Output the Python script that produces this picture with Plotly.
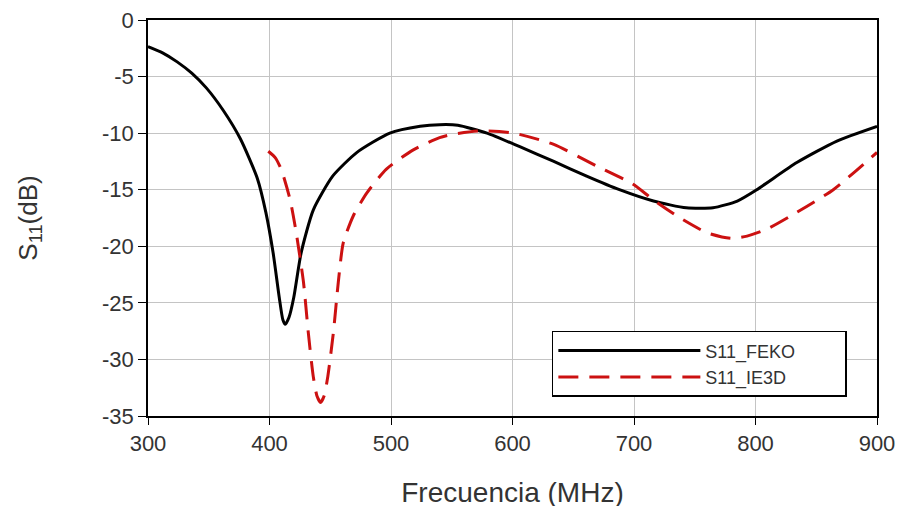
import plotly.graph_objects as go

# Frequency (MHz) and S11 (dB)
feko_f = [300, 312, 324, 336, 348, 362, 376, 390, 397, 403, 408, 411, 413, 416, 420, 426,
          436, 452, 472, 499, 524, 540, 555, 579, 606, 634, 661, 688, 716, 743, 765, 785,
          801, 834, 867, 900]
feko_s = [-2.35, -2.9, -3.7, -4.7, -6.0, -8.0, -10.5, -14.0, -17.0, -20.6, -24.5, -26.5,
          -26.9, -26.3, -24.5, -20.6, -16.8, -13.8, -11.7, -10.0, -9.4, -9.25, -9.3, -10.0,
          -11.2, -12.5, -13.8, -15.0, -16.0, -16.6, -16.6, -16.0, -15.0, -12.6, -10.7, -9.4]

ie3d_f = [399, 405, 410, 417, 422, 428, 432, 436, 439, 442, 445, 448, 452.5, 456.6, 460.7,
          469, 480, 496, 518, 540, 551, 573, 601, 634, 669, 699, 716, 738, 760, 780, 793,
          809, 834, 864, 900]
ie3d_s = [-11.6, -12.2, -13.3, -15.9, -18.8, -23.2, -27.7, -31.5, -33.2, -33.8, -33.2,
          -31.5, -27.7, -23.2, -19.7, -17.3, -15.3, -13.2, -11.5, -10.4, -10.1, -9.8, -10.0,
          -11.0, -12.9, -14.5, -15.9, -17.5, -18.8, -19.3, -19.1, -18.5, -17.0, -15.0, -11.7]

x_ticks = [300, 400, 500, 600, 700, 800, 900]
y_ticks = [0, -5, -10, -15, -20, -25, -30, -35]
y_ticktext = ["0", "-5", "-10", "-15", "-20", "-25", "-30", "-35"]

pad = "\u00a0" * 9

fig = go.Figure()
fig.add_trace(go.Scatter(x=feko_f, y=feko_s, mode="lines", name="S11_FEKO" + pad,
                         line=dict(color="black", width=3, shape="spline", smoothing=0.6)))
fig.add_trace(go.Scatter(x=ie3d_f, y=ie3d_s, mode="lines", name="S11_IE3D" + pad,
                         line=dict(color="#cc1111", width=3, dash="20px,11px",
                                   shape="spline", smoothing=0.6)))

font_family = "Liberation Sans, Arial, sans-serif"
fig.update_layout(
    width=906, height=506,
    margin=dict(l=140, r=37, t=12, b=98, autoexpand=False),
    paper_bgcolor="white", plot_bgcolor="white",
    font=dict(family=font_family, color="#222222"),
    showlegend=True,
    legend=dict(x=0.554, y=0.215, xanchor="left", yanchor="top",
                bgcolor="white", bordercolor="black", borderwidth=1.5,
                font=dict(size=18, color="#333333"), itemwidth=142,
                tracegroupgap=0),
    xaxis=dict(range=[300, 900], tickvals=x_ticks, showgrid=True, gridcolor="#c4c4c4",
               gridwidth=1, showline=True, linecolor="black", linewidth=1.5, mirror=True,
               ticks="outside", ticklen=7, tickcolor="black", automargin=False,
               ticklabeloverflow="allow",
               tickfont=dict(size=22, color="#333333"),
               title=dict(text="Frecuencia (MHz)", font=dict(size=28, color="#333333"),
                          standoff=27),
               zeroline=False),
    yaxis=dict(range=[-35, 0], tickvals=y_ticks, ticktext=y_ticktext, showgrid=True,
               gridcolor="#c4c4c4", gridwidth=1, showline=True, linecolor="black",
               linewidth=1.5, mirror=True, ticks="outside", ticklen=8, tickcolor="black",
               automargin=False, ticklabeloverflow="allow",
               tickfont=dict(size=22, color="#333333"),
               title=dict(text="S<sub>11</sub>(dB)", font=dict(size=26, color="#333333"),
                          standoff=57),
               zeroline=False),
)

fig.write_html("out.html")
